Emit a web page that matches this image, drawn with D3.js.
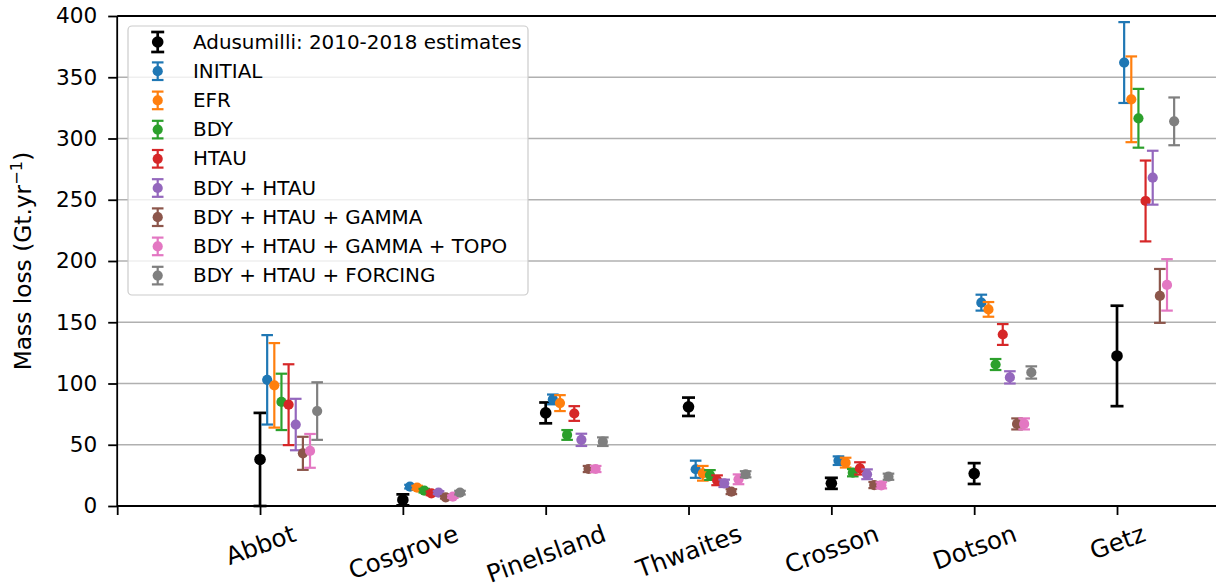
<!DOCTYPE html>
<html><head><meta charset="utf-8">
<script src="https://cdn.jsdelivr.net/npm/d3@7"></script>
<style>
html,body{margin:0;padding:0;background:#fff;}
svg{display:block;font-family:"DejaVu Sans",sans-serif;}
</style></head>
<body><svg id="chart" width="1216" height="588"></svg>
<script>
const categories = ["Abbot","Cosgrove","PineIsland","Thwaites","Crosson","Dotson","Getz"];
const seriesNames = ["Adusumilli: 2010-2018 estimates","INITIAL","EFR","BDY","HTAU","BDY + HTAU","BDY + HTAU + GAMMA","BDY + HTAU + GAMMA + TOPO","BDY + HTAU + FORCING"];
const seriesColors = ["#000000","#1f77b4","#ff7f0e","#2ca02c","#d62728","#9467bd","#8c564b","#e377c2","#7f7f7f"];
const adusumilli      = [38, 5, 76, 81, 18.5, 26.5, 122.5];
const adusumilliErr   = [38, 4.5, 8.5, 7.5, 4.5, 8.5, 41];
const initial         = [103, 15.8, 87, 30, 37, 166, 362];
const initialErr      = [36.5, 1.5, 4, 7, 3.5, 6.5, 33];
const efr             = [98.5, 15, 84, 26.7, 35.4, 160.5, 332];
const efrErr          = [34.5, 1.5, 6.5, 6, 4, 6, 35];
const bdy             = [85, 12.5, 58, 25.3, 27.2, 115.5, 316.5];
const bdyErr          = [23, 1.5, 4, 4, 3, 4.5, 24];
const htau            = [82.7, 10.3, 75.5, 21, 30.7, 140, 249];
const htauErr         = [33, 1.5, 6, 4, 5, 8.5, 33];
const bdyHtau         = [66.5, 10.9, 54, 18.5, 25.9, 105, 268];
const bdyHtauErr      = [21, 1.2, 5, 3, 4, 5, 22];
const gamma           = [43, 7.1, 30.2, 11.7, 17.1, 67, 171.5];
const gammaErr        = [13.5, 1, 2.5, 2, 2.5, 4.5, 22];
const topo            = [45, 7.6, 30.2, 21.8, 16.9, 67, 180.5];
const topoErr         = [13.8, 1, 2.5, 4, 2.5, 4.5, 21];
const forcing         = [77.5, 10.9, 52.5, 25.9, 23.9, 109, 314];
const forcingErr      = [23.5, 1.5, 3.5, 2.5, 2.5, 5, 19.5];
const yTicks = [0,50,100,150,200,250,300,350,400];

const seriesValues = [adusumilli, initial, efr, bdy, htau, bdyHtau, gamma, topo, forcing];
const seriesErrors = [adusumilliErr, initialErr, efrErr, bdyErr, htauErr, bdyHtauErr, gammaErr, topoErr, forcingErr];

(function(){
const svg = d3.select("#chart");
const FS_LEG = 19.9, FS_YT = 21.6, FS_XT = 24.5, FS_YL = 23.3;
const x = d3.scaleLinear().domain([0, 7.72]).range([117.2, 117.2 + 7.72*142.83]);
const y = d3.scaleLinear().domain([0, 400]).range([506, 16]);
const pL = x(0), pR = x(7.72), pT = y(400), pB = y(0);

// grid
svg.append("g").selectAll("line").data(yTicks).join("line")
  .attr("x1", pL).attr("x2", pR).attr("y1", d=>y(d)).attr("y2", d=>y(d))
  .attr("stroke", "#b0b0b0").attr("stroke-width", 1.6);

// error bars
const offset = 0.05;
seriesValues.forEach((vals, s) => {
  const g = svg.append("g");
  const col = seriesColors[s];
  const lw = s === 0 ? 2.7 : 2.2;
  const cap = s === 0 ? 6.5 : 5.8;
  const r = s === 0 ? 5.8 : 5.1;
  const data = vals.map((v,i)=>({xv: i+1+s*offset, v, e: seriesErrors[s][i]}));
  g.selectAll("line.v").data(data).join("line").attr("class","v")
    .attr("x1", d=>x(d.xv)).attr("x2", d=>x(d.xv))
    .attr("y1", d=>y(d.v-d.e)).attr("y2", d=>y(d.v+d.e))
    .attr("stroke", col).attr("stroke-width", lw);
  ["lo","hi"].forEach(k=>{
    g.selectAll("line."+k).data(data).join("line").attr("class",k)
      .attr("x1", d=>x(d.xv)-cap).attr("x2", d=>x(d.xv)+cap)
      .attr("y1", d=>y(k==="lo"? d.v-d.e : d.v+d.e)).attr("y2", d=>y(k==="lo"? d.v-d.e : d.v+d.e))
      .attr("stroke", col).attr("stroke-width", lw);
  });
  g.selectAll("circle").data(data).join("circle")
    .attr("cx", d=>x(d.xv)).attr("cy", d=>y(d.v)).attr("r", r).attr("fill", col);
});

// top spine
svg.append("line").attr("x1", pL).attr("x2", pR).attr("y1", pT).attr("y2", pT)
  .attr("stroke","#000").attr("stroke-width",1.8);

// y axis
const yAxis = svg.append("g").attr("transform", `translate(${pL},0)`)
  .call(d3.axisLeft(y).tickValues(yTicks).tickFormat(d3.format("d")).tickSize(9).tickPadding(11));
yAxis.select(".domain").attr("stroke","#000").attr("stroke-width",1.8).attr("d", `M0,${pB}V${pT}`);
yAxis.selectAll(".tick line").attr("stroke","#000").attr("stroke-width",1.8);
yAxis.selectAll(".tick text").attr("font-size", FS_YT).attr("font-family","DejaVu Sans").attr("fill","#000");

// x axis
const xAxis = svg.append("g").attr("transform", `translate(0,${pB})`)
  .call(d3.axisBottom(x).tickValues(d3.range(0,8)).tickFormat(i => i===0 ? "" : categories[i-1]).tickSize(9).tickPadding(9));
xAxis.select(".domain").attr("stroke","#000").attr("stroke-width",1.8).attr("d", `M${pL},0H${pR}`);
xAxis.selectAll(".tick line").attr("stroke","#000").attr("stroke-width",1.8);
const ang = 20*Math.PI/180;
xAxis.selectAll(".tick text").each(function(){
  const t = d3.select(this);
  t.attr("font-size", FS_XT).attr("font-family","DejaVu Sans").attr("fill","#000")
   .attr("dy", null).attr("text-anchor","middle").attr("dominant-baseline","central");
  const w = this.getComputedTextLength();
  const h = FS_XT*1.17;
  const bh = w*Math.sin(ang) + h*Math.cos(ang);
  const cy = 13 + bh/2;
  t.attr("y", cy).attr("transform", `rotate(-20,0,${cy})`);
});

// y label
const yl = svg.append("text")
  .attr("transform", `translate(31,${(pT+pB)/2}) rotate(-90)`)
  .attr("text-anchor","middle").attr("font-size", FS_YL).attr("fill","#000");
yl.append("tspan").text("Mass loss (Gt.yr");
yl.append("tspan").attr("font-size", FS_YL*0.7).attr("dy", -9).text("−1");
yl.append("tspan").attr("dy", 9).text(")");

// legend
const lg = svg.append("g");
lg.append("rect").attr("x",128).attr("y",26).attr("width",400).attr("height",269)
  .attr("rx",4).attr("fill","#fff").attr("fill-opacity",0.8)
  .attr("stroke","#cccccc").attr("stroke-width",1.2);
seriesNames.forEach((name, s) => {
  const cy = 42 + s*29.2;
  const col = seriesColors[s];
  const lw = s === 0 ? 2.7 : 2.2;
  const cap = s === 0 ? 6.5 : 5.8;
  const r = s === 0 ? 5.8 : 5.1;
  const half = s === 0 ? 10 : 8.8;
  const ix = 157.7;
  lg.append("line").attr("x1",ix).attr("x2",ix).attr("y1",cy-half).attr("y2",cy+half).attr("stroke",col).attr("stroke-width",lw);
  lg.append("line").attr("x1",ix-cap).attr("x2",ix+cap).attr("y1",cy-half).attr("y2",cy-half).attr("stroke",col).attr("stroke-width",lw);
  lg.append("line").attr("x1",ix-cap).attr("x2",ix+cap).attr("y1",cy+half).attr("y2",cy+half).attr("stroke",col).attr("stroke-width",lw);
  lg.append("circle").attr("cx",ix).attr("cy",cy).attr("r",r).attr("fill",col);
  lg.append("text").attr("x",193).attr("y",cy).attr("dominant-baseline","central")
    .attr("font-size",FS_LEG).attr("fill","#000").text(name);
});
})();
</script></body></html>
